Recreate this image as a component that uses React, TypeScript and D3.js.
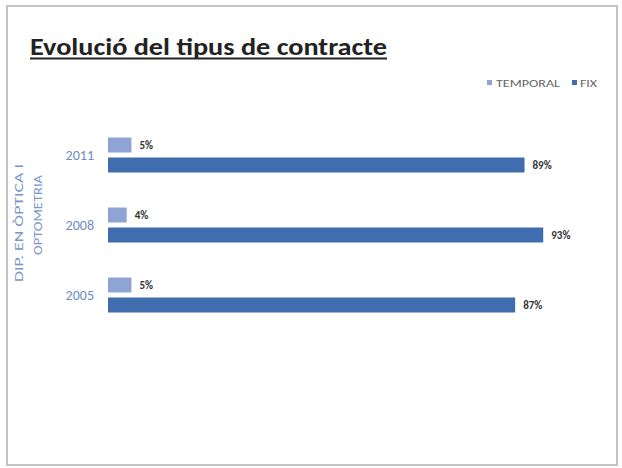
import React from "react";
import * as d3 from "d3";

const years = ["2011", "2008", "2005"];
const seriesNames = ["TEMPORAL", "FIX"];
const temporalValues = [5, 4, 5];
const fixValues = [89, 93, 87];
const colors = ["#8FA3D4", "#3F6DAE"];
const title = "Evolució del tipus de contracte";
const axisTitle = ["DIP. EN ÒPTICA I", "OPTOMETRIA"];

const FONT = "Carlito, 'Liberation Sans Narrow', 'Liberation Sans', Arial, sans-serif";

export default function App() {
  const W = 622, H = 468;
  const x = d3.scaleLinear().domain([0, 100]).range([108, 576]);
  const y = d3.scaleBand<string>().domain(years).range([120, 330]).paddingInner(0.5).paddingOuter(0.25);
  const sub = d3.scaleBand<string>().domain(seriesNames).range([0, y.bandwidth()]).paddingInner(0.25);
  const series = [temporalValues, fixValues];

  return (
    <svg width={W} height={H} style={{ position: "absolute", left: 0, top: 0, background: "#fff" }}>
      <rect x={7} y={6} width={610} height={459} fill="#fff" stroke="#c4c4c4" strokeWidth={2} />
      <text x={30} y={55} fontFamily={FONT} fontWeight="bold" fontSize={24} fill="#222"
        textLength={357} lengthAdjust="spacingAndGlyphs">{title}</text>
      <line x1={30} x2={387} y1={58.5} y2={58.5} stroke="#222" strokeWidth={2} />
      {/* legend */}
      <g fontFamily={FONT} fontSize={11} fill="#666">
        <rect x={487} y={80} width={5} height={5} fill={colors[0]} />
        <text x={496} y={86.5} textLength={64} lengthAdjust="spacingAndGlyphs">{seriesNames[0]}</text>
        <rect x={572} y={80} width={5} height={5} fill={colors[1]} />
        <text x={580} y={86.5} textLength={17} lengthAdjust="spacingAndGlyphs">{seriesNames[1]}</text>
      </g>
      {/* axis title */}
      <g fontFamily={FONT} fontSize={12} fill="#7A95C8" textAnchor="middle">
        <text transform={`translate(23,223) rotate(-90)`} textLength={118} lengthAdjust="spacingAndGlyphs">{axisTitle[0]}</text>
        <text transform={`translate(42,215) rotate(-90)`} textLength={80} lengthAdjust="spacingAndGlyphs">{axisTitle[1]}</text>
      </g>
      {/* year labels */}
      {years.map((yr) => (
        <text key={yr} x={94} y={(y(yr) as number) + y.bandwidth() / 2 + 5} textAnchor="end"
          fontFamily={FONT} fontSize={14} fill="#6F8CC4">{yr}</text>
      ))}
      {/* bars */}
      {series.map((vals, si) =>
        years.map((yr, i) => {
          const by = (y(yr) as number) + (sub(seriesNames[si]) as number);
          const bw = x(vals[i]) - x(0);
          return (
            <g key={`${si}-${yr}`}>
              <rect x={x(0)} y={by} width={bw} height={sub.bandwidth()} fill={colors[si]} />
              <text x={x(vals[i]) + 8} y={by + sub.bandwidth() / 2 + 4} fontFamily={FONT}
                fontSize={11} fontWeight="bold" fill="#333">{vals[i]}%</text>
            </g>
          );
        })
      )}
    </svg>
  );
}
